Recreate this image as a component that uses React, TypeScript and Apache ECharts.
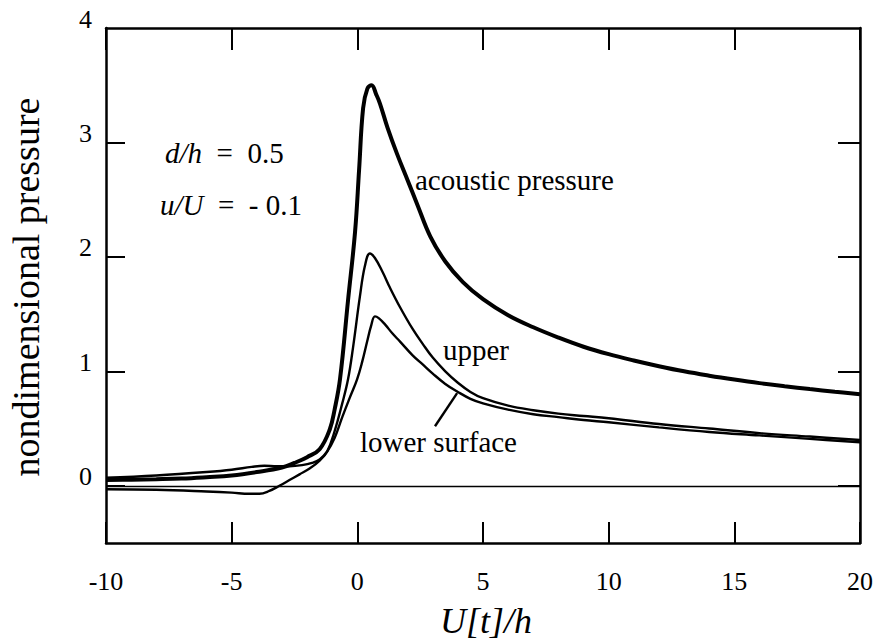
import React, { useEffect, useRef } from "react";
import * as echarts from "echarts";

const FONT = "Liberation Serif";

// x ticks / labels
const X_TICKS = [-10, -5, 0, 5, 10, 15, 20];
const Y_LABELS = [0, 1, 2, 3, 4];
const Y_TICKS = [0, 1, 2, 3];

// acoustic pressure (thick)
const ACOUSTIC_X = [-10, -9, -8, -7, -6, -5, -4, -3, -2.5, -2, -1.5, -1.1, -0.9, -0.69, -0.37, -0.09, 0.07, 0.23, 0.4, 0.57, 0.75, 0.9, 1.2, 1.58, 2.0, 2.4, 2.9, 3.5, 4.2, 5, 6, 7, 8, 9, 10, 11, 12, 13, 14, 15, 16, 17, 18, 19, 20];
const ACOUSTIC_Y = [0.05, 0.053, 0.057, 0.063, 0.075, 0.09, 0.12, 0.16, 0.2, 0.25, 0.32, 0.49, 0.67, 0.93, 1.62, 2.22, 2.76, 3.3, 3.47, 3.5, 3.42, 3.34, 3.13, 2.9, 2.67, 2.45, 2.18, 1.96, 1.78, 1.63, 1.49, 1.385, 1.295, 1.215, 1.15, 1.095, 1.045, 1.0, 0.962, 0.928, 0.897, 0.87, 0.845, 0.822, 0.8];

// upper surface (thin)
const UPPER_X = [-10, -8, -6, -5, -4.3, -3.9, -3.5, -3.1, -2.7, -2.3, -1.9, -1.5, -1.2, -0.9, -0.6, -0.37, -0.17, 0.1, 0.3, 0.5, 0.7, 1.0, 1.3, 1.7, 2.2, 2.6, 3.0, 3.5, 4.0, 4.5, 5, 6, 7, 8, 9, 10, 12, 14, 16, 18, 20];
const UPPER_Y = [-0.03, -0.035, -0.05, -0.06, -0.07, -0.07, -0.045, 0.0, 0.05, 0.1, 0.15, 0.22, 0.3, 0.48, 0.72, 0.93, 1.21, 1.65, 1.92, 2.03, 1.99, 1.87, 1.73, 1.56, 1.37, 1.24, 1.12, 1.0, 0.9, 0.82, 0.765, 0.7, 0.66, 0.63, 0.61, 0.59, 0.54, 0.5, 0.46, 0.43, 0.4];

// lower surface (thin)
const LOWER_X = [-10, -8, -6, -5, -4.2, -3.7, -3.2, -2.7, -2.2, -1.8, -1.5, -1.2, -0.9, -0.6, -0.3, -0.01, 0.19, 0.39, 0.55, 0.7, 0.85, 1.1, 1.4, 1.7, 2.2, 2.6, 3.0, 3.5, 4.0, 4.5, 5, 6, 7, 8, 9, 10, 12, 14, 16, 18, 20];
const LOWER_Y = [0.07, 0.09, 0.12, 0.14, 0.165, 0.175, 0.17, 0.17, 0.18, 0.2, 0.23, 0.3, 0.42, 0.6, 0.77, 0.93, 1.08, 1.26, 1.4, 1.48, 1.465, 1.41, 1.33, 1.26, 1.14, 1.06, 0.98, 0.89, 0.82, 0.76, 0.72, 0.665, 0.625, 0.6, 0.575, 0.555, 0.51, 0.47, 0.44, 0.41, 0.38];

// leader line for "lower surface" label (data coords)
const LEADER = [[3.09, 0.52], [3.97, 0.81]];

const pairs = (xs: number[], ys: number[]) => xs.map((x, i) => [x, ys[i]]);

const axisLine = { show: true, onZero: false, lineStyle: { color: "#000", width: 2.5 } };

export default function App() {
  const ref = useRef<HTMLDivElement>(null);
  useEffect(() => {
    document.body.style.margin = "0";
    if (!ref.current) return;
    const chart = echarts.init(ref.current, null, { renderer: "svg" });
    const labelStyle = { color: "#000", fontFamily: FONT, fontSize: 26 };
    const italic = { fontFamily: FONT, fontSize: 29, fontStyle: "italic", fill: "#000" };
    chart.setOption({
      animation: false,
      backgroundColor: "#fff",
      textStyle: { fontFamily: FONT },
      grid: { left: 106, right: 24, top: 28, bottom: 101, containLabel: false },
      xAxis: [
        {
          type: "value", min: -10, max: 20, interval: 5, position: "bottom",
          axisLine,
          axisTick: { show: true, inside: true, length: 21, customValues: X_TICKS, lineStyle: { color: "#000", width: 2 } },
          axisLabel: { ...labelStyle, margin: 25, customValues: X_TICKS },
          splitLine: { show: false },
        },
        {
          type: "value", min: -10, max: 20, interval: 5, position: "top",
          axisLine,
          axisTick: { show: true, inside: true, length: 22, customValues: X_TICKS, lineStyle: { color: "#000", width: 2 } },
          axisLabel: { show: false },
          splitLine: { show: false },
        },
      ],
      yAxis: [
        {
          type: "value", min: -0.5, max: 4, position: "left",
          axisLine,
          axisTick: { show: true, inside: true, length: 19, customValues: Y_TICKS, lineStyle: { color: "#000", width: 2 } },
          axisLabel: { ...labelStyle, margin: 14, verticalAlign: "bottom", lineHeight: 18, customValues: Y_LABELS },
          splitLine: { show: false },
        },
        {
          type: "value", min: -0.5, max: 4, position: "right",
          axisLine,
          axisTick: { show: true, inside: true, length: 22, customValues: Y_TICKS, lineStyle: { color: "#000", width: 2 } },
          axisLabel: { show: false },
          splitLine: { show: false },
        },
      ],
      series: [
        {
          name: "acoustic pressure", type: "line", xAxisIndex: 0, yAxisIndex: 0,
          data: pairs(ACOUSTIC_X, ACOUSTIC_Y), symbol: "none", smooth: 0.4,
          lineStyle: { color: "#000", width: 4 }, z: 3,
          markLine: {
            silent: true, symbol: ["none", "none"], label: { show: false },
            lineStyle: { color: "#000", width: 1.3, type: "solid" },
            data: [{ yAxis: 0 }],
          },
        },
        {
          name: "upper", type: "line", xAxisIndex: 0, yAxisIndex: 0,
          data: pairs(UPPER_X, UPPER_Y), symbol: "none", smooth: 0.4,
          lineStyle: { color: "#000", width: 2.4 }, z: 2,
        },
        {
          name: "lower surface", type: "line", xAxisIndex: 0, yAxisIndex: 0,
          data: pairs(LOWER_X, LOWER_Y), symbol: "none", smooth: 0.4,
          lineStyle: { color: "#000", width: 2.4 }, z: 2,
          markLine: {
            silent: true, symbol: ["none", "none"], label: { show: false },
            lineStyle: { color: "#000", width: 2.4, type: "solid" },
            data: [[{ coord: LEADER[0] }, { coord: LEADER[1] }]],
          },
        },
      ],
      graphic: [
        {
          type: "text", x: 26, y: 287, rotation: Math.PI / 2,
          style: { text: "nondimensional pressure", font: `38px ${FONT}`, fill: "#000", align: "center", verticalAlign: "middle" },
        },
        {
          type: "text", x: 486, y: 621,
          style: { text: "U[t]/h", font: `italic 36px ${FONT}`, fill: "#000", align: "center", verticalAlign: "middle" },
        },
        {
          type: "text", x: 165, y: 153,
          style: {
            text: "{i|d/h}  =  0.5", fontFamily: FONT, fontSize: 29, fill: "#000", align: "left", verticalAlign: "middle",
            rich: { i: italic },
          },
        },
        {
          type: "text", x: 160, y: 205,
          style: {
            text: "{i|u/U}  =  - 0.1", fontFamily: FONT, fontSize: 29, fill: "#000", align: "left", verticalAlign: "middle",
            rich: { i: italic },
          },
        },
        {
          type: "text", x: 415, y: 180,
          style: { text: "acoustic pressure", font: `29px ${FONT}`, fill: "#000", align: "left", verticalAlign: "middle" },
        },
        {
          type: "text", x: 443, y: 350,
          style: { text: "upper", font: `29px ${FONT}`, fill: "#000", align: "left", verticalAlign: "middle" },
        },
        {
          type: "text", x: 360, y: 442,
          style: { text: "lower surface", font: `29px ${FONT}`, fill: "#000", align: "left", verticalAlign: "middle" },
        },
      ],
    });
    return () => chart.dispose();
  }, []);
  return <div ref={ref} style={{ width: 884, height: 644 }} />;
}
